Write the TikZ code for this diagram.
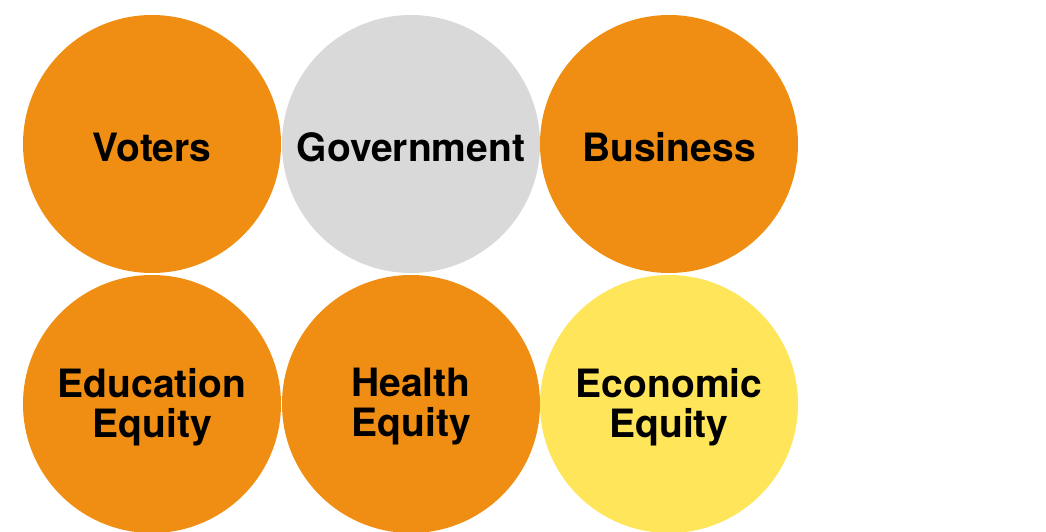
\documentclass[tikz,border=0pt]{standalone}
\usepackage{fontspec}
\setmainfont{TeX Gyre Heros}
\usepackage{xcolor}
\usepackage{tikz}
\usetikzlibrary{positioning}

\definecolor{orng}{HTML}{EF8E12}
\definecolor{grey}{HTML}{D9D9D9}
\definecolor{yllw}{HTML}{FFE55A}

\tikzset{
    bubble/.style={circle, minimum size=258pt, inner sep=0pt},
    caption/.style={align=center, inner sep=0pt, yshift=-3pt,
        font=\fontsize{39}{40}\selectfont\bfseries}
}

\begin{document}
\begin{tikzpicture}[x=1pt,y=-1pt]
    \useasboundingbox (0,0) rectangle (1046,532);
    \clip (0,0) rectangle (1046,532);

    % top row
    \node [bubble, fill=orng] (voters) at (152,144) {};
    \node [bubble, fill=grey] (govt) at (411,144) {};
    \node [bubble, fill=orng] (biz) at (669,144) {};

    % bottom row
    \node [bubble, fill=orng] (edu) at (152,404) {};
    \node [bubble, fill=orng] (health) at (411,404) {};
    \node [bubble, fill=yllw] (econ) at (669,404) {};

    % texts
    \node [caption] (voterstxt) at (voters) {Voters};
    \node [caption] (govttxt) at (govt) {Government};
    \node [caption] (biztxt) at (biz) {Business};
    \node [caption] (edutxt) at (edu) {Education\\Equity};
    \node [caption] (healthtxt) at (health) {Health\\Equity};
    \node [caption] (econtxt) at (econ) {Economic\\Equity};
\end{tikzpicture}
\end{document}
